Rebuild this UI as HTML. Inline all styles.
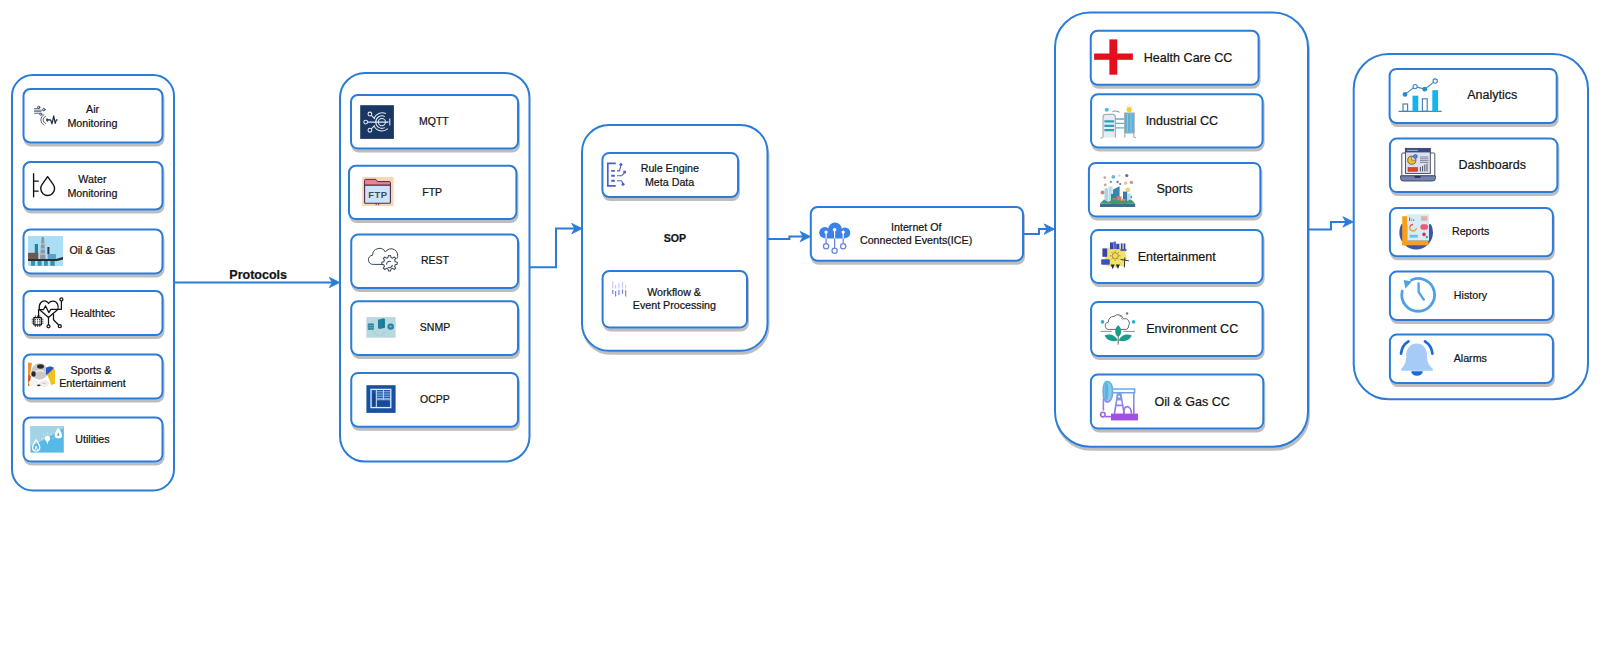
<!DOCTYPE html>
<html><head><meta charset="utf-8"><style>
html,body{margin:0;padding:0;background:#fff;}
body{width:1600px;height:648px;overflow:hidden;}
svg{display:block;font-family:"Liberation Sans",sans-serif;}
</style></head><body>
<svg width="1600" height="648" viewBox="0 0 1600 648">
<defs>
<filter id="sh" x="-10%" y="-10%" width="120%" height="130%">
<feOffset in="SourceAlpha" dx="1.4" dy="2.8" result="o"/>
<feGaussianBlur in="o" stdDeviation="0.55" result="b"/>
<feComponentTransfer in="b" result="c"><feFuncA type="linear" slope="0.26"/></feComponentTransfer>
<feMerge><feMergeNode in="c"/><feMergeNode in="SourceGraphic"/></feMerge>
</filter>
</defs>
<rect x="12.00" y="75.00" width="162.00" height="415.50" rx="21" ry="21" fill="#fff" stroke="#2a7cd8" stroke-width="2"/>
<rect x="340.00" y="73.00" width="189.50" height="388.60" rx="25" ry="25" fill="#fff" stroke="#2a7cd8" stroke-width="2"/>
<rect x="582.00" y="125.00" width="185.50" height="225.80" rx="27" ry="27" fill="#fff" stroke="#2a7cd8" stroke-width="2" filter="url(#sh)"/>
<rect x="1055.00" y="12.50" width="253.00" height="434.30" rx="35" ry="35" fill="#fff" stroke="#2a7cd8" stroke-width="2" filter="url(#sh)"/>
<rect x="1353.70" y="54.00" width="234.30" height="345.30" rx="35" ry="35" fill="#fff" stroke="#2a7cd8" stroke-width="2"/>
<rect x="23.50" y="89.00" width="139.00" height="53.50" rx="6.8" ry="6.8" fill="#fff" stroke="#2a7cd8" stroke-width="2" filter="url(#sh)"/>
<rect x="23.50" y="162.00" width="139.00" height="47.50" rx="6.8" ry="6.8" fill="#fff" stroke="#2a7cd8" stroke-width="2" filter="url(#sh)"/>
<rect x="23.50" y="229.50" width="139.00" height="43.90" rx="6.8" ry="6.8" fill="#fff" stroke="#2a7cd8" stroke-width="2" filter="url(#sh)"/>
<rect x="23.50" y="291.00" width="139.00" height="44.10" rx="6.8" ry="6.8" fill="#fff" stroke="#2a7cd8" stroke-width="2" filter="url(#sh)"/>
<rect x="23.50" y="354.50" width="139.00" height="44.10" rx="6.8" ry="6.8" fill="#fff" stroke="#2a7cd8" stroke-width="2" filter="url(#sh)"/>
<rect x="23.50" y="417.50" width="139.00" height="43.90" rx="6.8" ry="6.8" fill="#fff" stroke="#2a7cd8" stroke-width="2" filter="url(#sh)"/>
<rect x="351.00" y="95.00" width="167.00" height="53.60" rx="6.8" ry="6.8" fill="#fff" stroke="#2a7cd8" stroke-width="2" filter="url(#sh)"/>
<rect x="349.00" y="165.75" width="167.40" height="53.35" rx="6.8" ry="6.8" fill="#fff" stroke="#2a7cd8" stroke-width="2" filter="url(#sh)"/>
<rect x="351.25" y="234.60" width="166.75" height="53.30" rx="6.8" ry="6.8" fill="#fff" stroke="#2a7cd8" stroke-width="2" filter="url(#sh)"/>
<rect x="351.25" y="301.25" width="166.75" height="53.65" rx="6.8" ry="6.8" fill="#fff" stroke="#2a7cd8" stroke-width="2" filter="url(#sh)"/>
<rect x="351.25" y="372.90" width="166.75" height="53.90" rx="6.8" ry="6.8" fill="#fff" stroke="#2a7cd8" stroke-width="2" filter="url(#sh)"/>
<rect x="602.40" y="152.90" width="135.60" height="44.10" rx="6.8" ry="6.8" fill="#fff" stroke="#2a7cd8" stroke-width="2" filter="url(#sh)"/>
<rect x="602.60" y="271.00" width="144.40" height="56.40" rx="6.8" ry="6.8" fill="#fff" stroke="#2a7cd8" stroke-width="2" filter="url(#sh)"/>
<rect x="810.80" y="207.00" width="212.20" height="53.75" rx="6.8" ry="6.8" fill="#fff" stroke="#2a7cd8" stroke-width="2" filter="url(#sh)"/>
<rect x="1090.75" y="30.75" width="167.85" height="54.00" rx="6.8" ry="6.8" fill="#fff" stroke="#2a7cd8" stroke-width="2" filter="url(#sh)"/>
<rect x="1091.10" y="94.20" width="171.50" height="53.20" rx="6.8" ry="6.8" fill="#fff" stroke="#2a7cd8" stroke-width="2" filter="url(#sh)"/>
<rect x="1088.90" y="162.90" width="171.50" height="53.50" rx="6.8" ry="6.8" fill="#fff" stroke="#2a7cd8" stroke-width="2" filter="url(#sh)"/>
<rect x="1091.10" y="230.10" width="171.50" height="52.80" rx="6.8" ry="6.8" fill="#fff" stroke="#2a7cd8" stroke-width="2" filter="url(#sh)"/>
<rect x="1091.10" y="302.10" width="171.50" height="53.80" rx="6.8" ry="6.8" fill="#fff" stroke="#2a7cd8" stroke-width="2" filter="url(#sh)"/>
<rect x="1090.90" y="374.60" width="172.40" height="53.80" rx="6.8" ry="6.8" fill="#fff" stroke="#2a7cd8" stroke-width="2" filter="url(#sh)"/>
<rect x="1389.60" y="68.90" width="167.10" height="54.10" rx="6.8" ry="6.8" fill="#fff" stroke="#2a7cd8" stroke-width="2" filter="url(#sh)"/>
<rect x="1389.90" y="138.60" width="167.50" height="53.50" rx="6.8" ry="6.8" fill="#fff" stroke="#2a7cd8" stroke-width="2" filter="url(#sh)"/>
<rect x="1389.90" y="208.10" width="163.00" height="48.20" rx="6.8" ry="6.8" fill="#fff" stroke="#2a7cd8" stroke-width="2" filter="url(#sh)"/>
<rect x="1389.90" y="271.60" width="163.00" height="48.40" rx="6.8" ry="6.8" fill="#fff" stroke="#2a7cd8" stroke-width="2" filter="url(#sh)"/>
<rect x="1389.90" y="334.60" width="163.00" height="48.40" rx="6.8" ry="6.8" fill="#fff" stroke="#2a7cd8" stroke-width="2" filter="url(#sh)"/>
<path d="M175.00,282.50 L332.00,282.50" fill="none" stroke="#2a7cd8" stroke-width="2" stroke-linejoin="miter"/>
<path d="M339.80,282.50 L329.30,277.30 L332.30,282.50 L329.30,287.70 Z" fill="#2a7cd8" stroke="#2a7cd8" stroke-width="0.8" stroke-linejoin="miter"/>
<path d="M530.00,267.30 L556.00,267.30 L556.00,228.60 L575.00,228.60" fill="none" stroke="#2a7cd8" stroke-width="2" stroke-linejoin="miter"/>
<path d="M582.20,228.60 L571.70,223.40 L574.70,228.60 L571.70,233.80 Z" fill="#2a7cd8" stroke="#2a7cd8" stroke-width="0.8" stroke-linejoin="miter"/>
<path d="M768.00,239.10 L789.40,239.10 L789.40,236.60 L803.00,236.60" fill="none" stroke="#2a7cd8" stroke-width="2" stroke-linejoin="miter"/>
<path d="M810.60,236.60 L800.10,231.40 L803.10,236.60 L800.10,241.80 Z" fill="#2a7cd8" stroke="#2a7cd8" stroke-width="0.8" stroke-linejoin="miter"/>
<path d="M1024.00,233.90 L1039.00,233.90 L1039.00,229.10 L1047.00,229.10" fill="none" stroke="#2a7cd8" stroke-width="2" stroke-linejoin="miter"/>
<path d="M1054.60,229.10 L1044.10,223.90 L1047.10,229.10 L1044.10,234.30 Z" fill="#2a7cd8" stroke="#2a7cd8" stroke-width="0.8" stroke-linejoin="miter"/>
<path d="M1309.00,229.50 L1331.00,229.50 L1331.00,221.90 L1346.00,221.90" fill="none" stroke="#2a7cd8" stroke-width="2" stroke-linejoin="miter"/>
<path d="M1353.40,221.90 L1342.90,216.70 L1345.90,221.90 L1342.90,227.10 Z" fill="#2a7cd8" stroke="#2a7cd8" stroke-width="0.8" stroke-linejoin="miter"/>
<g fill="#141414" stroke="#141414" stroke-width="0.22">
<text x="92.60" y="113.00" font-size="10.7" text-anchor="middle">Air</text>
<text x="92.40" y="127.00" font-size="10.7" text-anchor="middle">Monitoring</text>
<text x="92.40" y="182.50" font-size="10.7" text-anchor="middle">Water</text>
<text x="92.40" y="197.00" font-size="10.7" text-anchor="middle">Monitoring</text>
<text x="92.30" y="254.40" font-size="10.7" text-anchor="middle">Oil &amp; Gas</text>
<text x="92.60" y="316.90" font-size="10.7" text-anchor="middle">Healthtec</text>
<text x="90.90" y="373.75" font-size="10.7" text-anchor="middle">Sports &amp;</text>
<text x="92.50" y="386.90" font-size="10.7" text-anchor="middle">Entertainment</text>
<text x="92.45" y="443.10" font-size="10.7" text-anchor="middle">Utilities</text>
<text x="258.20" y="278.70" font-size="12.5" text-anchor="middle" font-weight="bold">Protocols</text>
<text x="433.90" y="125.00" font-size="10.5" text-anchor="middle">MQTT</text>
<text x="432.20" y="195.60" font-size="10.5" text-anchor="middle">FTP</text>
<text x="434.90" y="264.40" font-size="10.5" text-anchor="middle">REST</text>
<text x="435.00" y="331.25" font-size="10.5" text-anchor="middle">SNMP</text>
<text x="435.00" y="402.50" font-size="10.5" text-anchor="middle">OCPP</text>
<text x="669.80" y="171.90" font-size="10.7" text-anchor="middle">Rule Engine</text>
<text x="669.60" y="185.60" font-size="10.7" text-anchor="middle">Meta Data</text>
<text x="674.90" y="241.50" font-size="10.6" text-anchor="middle" font-weight="bold">SOP</text>
<text x="674.10" y="296.00" font-size="10.7" text-anchor="middle">Workflow &amp;</text>
<text x="674.40" y="309.40" font-size="10.7" text-anchor="middle">Event Processing</text>
<text x="916.25" y="230.75" font-size="10.7" text-anchor="middle">Internet Of</text>
<text x="916.10" y="244.10" font-size="10.7" text-anchor="middle">Connected Events(ICE)</text>
<text x="1188.10" y="61.50" font-size="12.55" text-anchor="middle">Health Care CC</text>
<text x="1181.90" y="124.75" font-size="12.55" text-anchor="middle">Industrial CC</text>
<text x="1174.60" y="193.10" font-size="12.55" text-anchor="middle">Sports</text>
<text x="1176.75" y="260.60" font-size="12.55" text-anchor="middle">Entertainment</text>
<text x="1192.20" y="333.00" font-size="12.55" text-anchor="middle">Environment CC</text>
<text x="1192.20" y="406.10" font-size="12.55" text-anchor="middle">Oil &amp; Gas CC</text>
<text x="1492.25" y="99.40" font-size="12.5" text-anchor="middle">Analytics</text>
<text x="1492.25" y="169.00" font-size="12.5" text-anchor="middle">Dashboards</text>
<text x="1470.65" y="234.90" font-size="10.7" text-anchor="middle">Reports</text>
<text x="1470.50" y="298.90" font-size="10.7" text-anchor="middle">History</text>
<text x="1470.30" y="361.90" font-size="10.7" text-anchor="middle">Alarms</text>
</g>
<!-- Air monitoring -->
<g fill="none" stroke="#34435e" stroke-width="0.9" stroke-linecap="round">
<path d="M34.5,108.6 H39.5 M34.5,110.2 H42.5 M34.5,111.6 H41 M34.5,113.3 H39.8" stroke="#6a7894" stroke-width="1"/>
<circle cx="38.7" cy="107.2" r="1.1"/><circle cx="43.9" cy="109.6" r="1.2"/><circle cx="40.8" cy="114.2" r="1.1"/>
<path d="M45.6,116.2 A4,4 0 0 0 45.6,123.6" stroke="#555"/>
<path d="M44,114.6 A6,6 0 0 0 44,125.2" stroke="#555"/>
<path d="M47.2,118.2 A2.2,2.2 0 0 0 47.2,121.6" stroke="#333"/>
<path d="M47.8,119.9 H50.6 L52,123.8 L53.7,115.9 L55.2,123.4 L56.4,119.9 H57" stroke="#1e2a44" stroke-width="1.2" stroke-linejoin="round"/>
<circle cx="47.6" cy="119.9" r="0.9" fill="#1e2a44" stroke="none"/>
</g>
<!-- Water monitoring -->
<g fill="none" stroke="#111" stroke-width="1.35" stroke-linecap="round">
<path d="M33.6,173.6 V196.8 M33.6,181.1 H38.2 M33.6,191.1 H38.2"/>
<path d="M47.65,176.6 L41.96,184.7 A6.9,6.9 0 1 0 53.34,184.7 Z" stroke-linejoin="round"/>
</g>
<!-- Oil & gas -->
<g>
<rect x="28" y="236" width="35" height="30" fill="#a9def4"/>
<rect x="31" y="260.5" width="4" height="5.3" fill="#3a90a8"/><rect x="37.6" y="260.5" width="4" height="5.3" fill="#3a90a8"/>
<rect x="44" y="260.5" width="3.8" height="5.3" fill="#3a90a8"/><rect x="50.3" y="260.5" width="4.4" height="5.3" fill="#3a90a8"/>
<rect x="34.8" y="244" width="3.2" height="15" fill="#2a7f96"/>
<path d="M40,259 L41.6,237 H44 L45.5,259 Z" fill="#8a9aa4"/>
<path d="M41.2,244 H44.4 M40.9,249 H44.8 M40.6,254 H45.1" stroke="#e6eef2" stroke-width="0.7"/>
<rect x="47.4" y="247" width="2" height="7" fill="#2a3a4a"/>
<rect x="28" y="252.8" width="10.3" height="6.8" fill="#6c5a50"/>
<rect x="47.7" y="254" width="8.3" height="5" fill="#5aa0c8"/>
<path d="M28,259 H56 L63,257 V259.5 L57,261 H28 Z" fill="#2a2e36"/>
</g>
<!-- Healthtec -->
<g fill="none" stroke="#141414" stroke-width="1.25" stroke-linejoin="round" stroke-linecap="round">
<path d="M39.4,309.5 C38.2,303.5 42.2,300.2 45.6,301.2 C47,301.6 48,302.5 48.6,303.4 C49.4,302.2 51,301.2 53,301.2 C57,301.2 59.2,305.5 57.8,309.5 L48.5,317.5 Z"/>
<path d="M39.2,309.5 H43.6 L45.6,305.9 L48.8,312.6 L50.9,309.3 H61.4 V300.9"/>
<circle cx="61.4" cy="299.4" r="1.5"/>
<path d="M38.6,309.5 V317.6"/>
<path d="M48.5,317.5 V324.6"/><circle cx="48.5" cy="326.3" r="1.5"/>
<path d="M53.5,314 V319.8 L58.6,325"/><circle cx="59.8" cy="326.2" r="1.5"/>
<rect x="33.9" y="317.6" width="7.4" height="7.2"/>
<path d="M35.4,315.8 V317.6 M37.6,315.8 V317.6 M39.8,315.8 V317.6 M35.4,324.8 V326.6 M37.6,324.8 V326.6 M39.8,324.8 V326.6 M32.1,319.2 H33.9 M32.1,321.2 H33.9 M32.1,323.2 H33.9 M41.3,319.2 H43.1 M41.3,321.2 H43.1 M41.3,323.2 H43.1" stroke-width="0.8"/>
<path d="M35.6,319.5 h0.01 M37.6,319.5 h0.01 M39.6,319.5 h0.01 M35.6,321.2 h0.01 M37.6,321.2 h0.01 M39.6,321.2 h0.01 M35.6,323 h0.01 M37.6,323 h0.01 M39.6,323 h0.01" stroke-width="1"/>
</g>
<!-- Sports & Ent -->
<g>
<path d="M28,362.5 L32,363 L30.5,372 L29,386 L28,386 Z" fill="#e8923a"/>
<path d="M28.5,375 L31,376 L29.5,386 L28,385 Z" fill="#d0502a"/>
<circle cx="39.5" cy="371.5" r="8.2" fill="#c9c9c9"/>
<ellipse cx="40.5" cy="366.5" rx="3.4" ry="2.2" fill="#2a2a2a"/>
<ellipse cx="33.5" cy="374" rx="2.2" ry="2.8" fill="#2a2a2a"/>
<path d="M36,372 C38,370 42,370 44,372" stroke="#eee" stroke-width="1.5" fill="none"/>
<path d="M47,369 C50,367 54,368 55,370 L55,384 L51,385 C50,380 48,376 46,374 Z" fill="#f2c21a"/>
<path d="M46,368 C48,366 52,366 54,368 L49,373 L46,375 Z" fill="#2a55c8"/>
<ellipse cx="33.5" cy="383" rx="5" ry="3.5" fill="#f3f3f3"/>
<ellipse cx="44" cy="383.5" rx="5" ry="3.5" fill="#eeeeee"/>
<path d="M42,382.5 C43,384 45,384 46,382.5" stroke="#d88" stroke-width="0.5" fill="none"/>
<ellipse cx="38.8" cy="385.3" rx="1.8" ry="0.9" fill="#333"/>
</g>
<!-- Utilities -->
<g>
<rect x="30.5" y="426" width="33.3" height="26.6" fill="#56b9e8"/>
<path d="M30.5,426 H63.8 V428 C55,433 46,440 30.5,446 Z" fill="#a3d3e4"/>
<path d="M36.2,440 C33.6,443.5 32,446 32.6,448.8 C33.4,451.8 38.6,451.8 39.6,449 C40.6,446 38.8,443.5 36.2,440 Z" fill="none" stroke="#fff" stroke-width="1.3"/>
<path d="M35,450 L36,446 L37.6,450" fill="none" stroke="#fff" stroke-width="0.9"/>
<circle cx="47.4" cy="438.4" r="2.6" fill="#fff"/><path d="M45.9,439.8 L47.4,444.6 L48.9,439.8 Z" fill="#fff"/>
<path d="M44,435 l-1,-1 M47.4,434 v-1.3 M50.8,435 l1,-1 M42.8,438.6 h-1.3 M52,438.6 h1.3" stroke="#e8f6ff" stroke-width="0.7"/>
<path d="M58.2,427.4 C56.4,430.6 54.2,433 54.6,436.2 C55.2,439.2 61.4,439.2 62,436.2 C62.4,433 60.2,430.6 58.2,427.4 Z" fill="#fff"/>
<path d="M58.3,432.6 L57.2,435.6 H59.4 Z" fill="#3a8aaa"/>
</g>
<!-- MQTT -->
<g>
<rect x="360.2" y="105.2" width="33.7" height="33.7" fill="#1a3764"/>
<g fill="none" stroke="#e3eaf4" stroke-width="1.05">
<circle cx="369.9" cy="114" r="1.9"/><circle cx="365.7" cy="122.1" r="1.9"/><circle cx="369.9" cy="130.2" r="1.9"/>
<path d="M371.3,115.4 L374.8,118.8 M367.6,122.1 H388.6 M371.3,128.8 L374.8,125.4 M389.8,118.6 V125.6"/>
<circle cx="381.9" cy="122.1" r="3.6"/>
<path d="M384.8,116.6 A6.2,6.2 0 1 0 384.8,127.6"/>
<path d="M385.8,113.6 A8.8,8.8 0 0 0 374,118.2 M374,126 A8.8,8.8 0 0 0 387.8,128.6"/>
</g>
</g>
<!-- FTP -->
<g>
<rect x="362.2" y="177" width="31.4" height="29" fill="#f5cfa6" opacity="0.85"/>
<path d="M364.6,185.2 V180.2 Q364.6,179.4 365.4,179.4 H375.8 L377.6,181.6 H389.6 Q390.4,181.6 390.4,182.4 V185.2 Z" fill="#f0808e" stroke="#4a2e4e" stroke-width="1"/>
<path d="M364.6,185.2 H390.4 V202.4 Q390.4,203.2 389.6,203.2 H365.4 Q364.6,203.2 364.6,202.4 Z" fill="#cfe3f8" stroke="#4a2e4e" stroke-width="1.1"/>
<text x="377.9" y="197.6" font-size="9.4" font-weight="bold" fill="#3c4a66" text-anchor="middle" letter-spacing="0.5">FTP</text>
<path d="M376.2,203.2 v2 M378.6,203.2 v2" stroke="#4a2e4e" stroke-width="0.9"/>
</g>
<!-- REST -->
<g fill="none" stroke="#3b4757" stroke-width="1" stroke-linejoin="round">
<path d="M382.6,264.4 H373.4 A4.6,4.6 0 0 1 372.6,255.2 A6.8,6.8 0 0 1 385.4,252 A5.4,5.4 0 0 1 396.8,258.8"/>
<g transform="translate(389.4,264.4) scale(1.15) translate(-389.2,-264.2)">
<path d="M389.2,256.6 l1,-0.1 0.4,1.7 1.4,0.6 1.5,-1 1.2,1.2 -1,1.5 0.6,1.4 1.7,0.4 v1.8 l-1.7,0.4 -0.6,1.4 1,1.5 -1.2,1.2 -1.5,-1 -1.4,0.6 -0.4,1.7 h-1.8 l-0.4,-1.7 -1.4,-0.6 -1.5,1 -1.2,-1.2 1,-1.5 -0.6,-1.4 -1.7,-0.4 v-1.8 l1.7,-0.4 0.6,-1.4 -1,-1.5 1.2,-1.2 1.5,1 1.4,-0.6 0.4,-1.7 z" stroke-width="0.9"/>
<path d="M386.6,264.4 A2.8,2.8 0 0 1 390.6,261.8 M391.8,264.6 A2.8,2.8 0 0 1 387.8,266.8" stroke-width="0.9"/>
</g>
</g>
<!-- SNMP -->
<g>
<rect x="366.4" y="317.1" width="29.2" height="20.6" fill="#b9d7df"/>
<rect x="367.8" y="323.6" width="6" height="6.2" rx="0.6" fill="#1f7f9c"/>
<path d="M368.2,325.6 H373.4 M368.2,327.8 H373.4" stroke="#9fd0dc" stroke-width="0.6"/>
<path d="M378,319.8 L383.2,318.4 L385,319 V327.8 L379.8,329 L378,328.2 Z" fill="#1f7f9c"/>
<path d="M383.2,318.4 V328.2" stroke="#166a84" stroke-width="0.5"/>
<circle cx="390.7" cy="326.6" r="3.2" fill="#1f7f9c"/>
<path d="M389,326.6 h3.4 M390.7,324.9 v3.4" stroke="#9fd0dc" stroke-width="0.6"/>
<path d="M372,331 L378.6,336 M386,331.5 L380,336" stroke="#8abccc" stroke-width="0.5"/>
</g>
<!-- OCPP -->
<g>
<rect x="366.4" y="385.2" width="29.2" height="27.7" fill="#1a50a2"/>
<rect x="371" y="389.4" width="19.8" height="18.2" fill="none" stroke="#d8ecff" stroke-width="1.3"/>
<path d="M376.3,389.6 V407.4" stroke="#d8ecff" stroke-width="1"/>
<rect x="373" y="393.5" width="2.2" height="12.2" fill="#16408a"/>
<path d="M377,391.8 H390 M377,394 H390 M377,396.2 H390 M377,398.4 H390" stroke="#b8d6f6" stroke-width="0.8"/>
<path d="M383.4,390 V399.6 M376.8,399.8 H390.4" stroke="#d8ecff" stroke-width="0.8"/>
<rect x="377.3" y="400.7" width="11.2" height="4.8" fill="#1a4896"/>
</g>
<!-- Rule Engine -->
<g fill="none" stroke="#4a5ed2" stroke-width="1.7">
<path d="M615.8,163.3 H607.8 V185.8 H615.8"/>
<path d="M611.2,170.9 H614.8 M611.2,175.8 H614.8 M611.2,180.8 H614.8" stroke-width="1.9"/>
<path d="M617,170.9 H619.4 L620.8,166" stroke-width="1.1"/>
<path d="M617,175.8 H621.6 L624.4,172.8" stroke-width="1.1"/>
<path d="M617,180.8 H621.4 L623,183.4" stroke-width="1.1"/>
<circle cx="620.9" cy="164.6" r="1.5" fill="#4a5ed2" stroke="none"/>
<circle cx="624.6" cy="171.9" r="1.5" fill="#4a5ed2" stroke="none"/>
<circle cx="623" cy="184.3" r="1.5" fill="#4a5ed2" stroke="none"/>
</g>
<!-- Workflow -->
<g stroke-width="1.2">
<path d="M612.8,281.6 V288.4 M615.6,285 V288.4 M618.9,283.2 V288.4 M622.5,281.8 V288.4 M625.7,285 V288.4" stroke="#c6ccf2"/>
<path d="M612.8,290 V294 M615.6,291 V296.5 M618.9,290 V295 M622.5,289.6 V293.8 M625.7,290.2 V296.6" stroke="#7784e2"/>
</g>
<!-- ICE cloud -->
<g>
<g fill="#3d80e8"><circle cx="835" cy="229.4" r="6.8"/><circle cx="824.8" cy="232.6" r="5.6"/><circle cx="845" cy="232.8" r="5.3"/><rect x="824.8" y="229.4" width="20.2" height="9.1"/></g>
<g fill="none" stroke="#fff" stroke-width="1.2"><path d="M826.1,232.6 V239.5 M834.6,230.2 V239.5 M843.2,232.6 V239.5"/></g>
<circle cx="826.1" cy="232.1" r="1.7" fill="#fff"/><circle cx="834.6" cy="229.7" r="1.8" fill="#fff"/><circle cx="843.2" cy="232.1" r="1.7" fill="#fff"/>
<g fill="none" stroke="#6a82dc" stroke-width="1.25"><path d="M826.1,238.4 V243.6 M834.6,238.4 V248.2 M843.2,238.4 V243.6"/>
<circle cx="826.1" cy="246.2" r="2.6"/><circle cx="834.6" cy="250.8" r="2.6"/><circle cx="843.2" cy="246.2" r="2.6"/></g>
</g>
<!-- Red cross -->
<g fill="#e1101c">
<rect x="1109.4" y="39.4" width="7.9" height="35.3"/>
<rect x="1094.1" y="53.5" width="38.8" height="6.3"/>
</g>
<!-- Industrial -->
<g>
<circle cx="1106.7" cy="109.7" r="2" fill="#3ec0e8"/>
<path d="M1112.5,111.6 C1114,110.8 1117,111 1119.5,112.2" stroke="#8a96a0" stroke-width="1.1" fill="none"/>
<path d="M1103,137.6 V117 Q1103,114.4 1106,114.4 H1112.5 Q1115.4,114.4 1115.4,117 V137.6" fill="#e6ecf0" stroke="#a8b0b8" stroke-width="1.2"/>
<path d="M1104.4,121.4 H1114 M1104.4,125.9 H1114 M1104.4,130.1 H1114" stroke="#2ea0b8" stroke-width="2.1"/>
<path d="M1115.4,119 H1124.5 M1115.4,123.4 H1124.5 M1115.4,127.8 H1124.5" stroke="#5ab4c8" stroke-width="1.3"/>
<rect x="1124.5" y="113" width="9.7" height="20" fill="#5eb0d4" stroke="#a8b0b8" stroke-width="1.1"/>
<path d="M1127.4,114 V132 M1131,114 V132" stroke="#a6d8ea" stroke-width="0.7"/>
<path d="M1124.8,133 V137.6 M1133.8,133 V137 L1136,137.8" stroke="#a8b0b8" stroke-width="1.2" fill="none"/>
<path d="M1102.8,137.6 L1100.2,138" stroke="#a8b0b8" stroke-width="1.2"/>
<circle cx="1129.2" cy="109.7" r="2.6" fill="#f2d21e"/>
<path d="M1126.5,106 l1,1.5 M1129.2,104.5 v1.8 M1132,106 l-1,1.5" stroke="#c8c070" stroke-width="0.6"/>
</g>
<!-- Sports city -->
<g>
<circle cx="1104.8" cy="177.6" r="1.4" fill="#d89a9a"/><circle cx="1113.3" cy="176.8" r="1.9" fill="#6ab4d4"/>
<circle cx="1119.4" cy="175.6" r="1.2" fill="#c4d8e0"/><circle cx="1126.8" cy="175.6" r="1.6" fill="#7a6a7a"/>
<circle cx="1110.8" cy="181.8" r="1.1" fill="#708080"/><circle cx="1117.6" cy="182" r="1.2" fill="#6a8aa0"/>
<circle cx="1120.2" cy="184" r="1.1" fill="#5a7a90"/><circle cx="1125.6" cy="183.2" r="1.6" fill="#e0c090"/>
<circle cx="1131.4" cy="182.4" r="1.7" fill="#d89080"/><circle cx="1105.2" cy="184.8" r="1.4" fill="#c0a890"/>
<circle cx="1102.6" cy="192.4" r="2" fill="#d48080"/><circle cx="1106.4" cy="189.4" r="1" fill="#506878"/>
<circle cx="1127.8" cy="189.8" r="2.4" fill="#f0d070"/><circle cx="1131" cy="197" r="1.2" fill="#3a90b0"/>
<rect x="1104.5" y="189" width="3.5" height="14.6" fill="#a8d4e6"/>
<rect x="1108.5" y="186.6" width="4" height="17" fill="#b8dce8"/>
<path d="M1113,203.6 V189.5 L1119.6,186.2 V203.6 Z" fill="#3a86b0"/>
<rect x="1111" y="194" width="4" height="9.6" fill="#2a8aa0"/>
<rect x="1123" y="191.6" width="4.2" height="12" fill="#3a78b0"/>
<rect x="1127" y="193.6" width="3.8" height="10" fill="#b8dce8"/>
<rect x="1116.5" y="196.5" width="5" height="7" fill="#e07a5a"/>
<rect x="1112.5" y="198" width="3.2" height="5.6" fill="#e06a50"/>
<rect x="1122" y="199" width="3.5" height="4.6" fill="#e09050"/>
<path d="M1100,203.6 L1104,199.6 L1108,202 L1112,200 L1127,201 L1131,199.5 L1135.2,203.6 Z" fill="#3a9a6e"/>
<rect x="1100" y="203.6" width="35.2" height="3.4" fill="#3b6e8e"/>
</g>
<!-- Entertainment -->
<g>
<path d="M1105.2,249.4 L1109,247.2 L1112,248.4 L1116,246.6 L1120,248.4 L1126,250.2 L1125.4,254 L1127,258.4 L1124.6,262 L1124.8,266.4 L1119,266 L1116,268 L1111.6,266 L1107.4,266.8 L1107,262.4 L1104.6,258.6 L1106,254 Z" fill="#f4e266"/>
<circle cx="1115.2" cy="255.8" r="3.1" fill="#f8d858" stroke="#6a5a20" stroke-width="0.6"/>
<path d="M1115.2,250.6 V251.8 M1115.2,259.8 V261 M1110,255.8 H1111.2 M1119.2,255.8 H1120.4 M1111.6,252.2 l0.8,0.8 M1118,258.6 l0.8,0.8 M1118.8,252.2 l-0.8,0.8 M1112.4,258.6 l-0.8,0.8" stroke="#7a6a28" stroke-width="0.7"/>
<rect x="1110" y="242.4" width="3.4" height="6.8" fill="#3448b4"/><rect x="1113.4" y="241.6" width="2.6" height="7.4" fill="#5466cc"/>
<rect x="1116.2" y="243.8" width="3.2" height="5.4" fill="#3448b4"/>
<rect x="1120.8" y="243.4" width="1.8" height="7.4" fill="#3e4890"/><rect x="1123.6" y="243.4" width="1.8" height="7.4" fill="#3e4890"/>
<rect x="1120.6" y="249" width="5.8" height="2" fill="#4c5cc0"/>
<rect x="1102.4" y="248.4" width="4.8" height="8.4" fill="#3446aa"/>
<rect x="1101.2" y="259.2" width="8.6" height="5.6" rx="1" fill="#3652c0"/>
<path d="M1110.6,264.4 L1112.8,269.2 L1114.6,264.6 Z M1115.8,264.4 L1118,269 L1119.8,264.4 Z" fill="#1e2458"/>
<path d="M1120.6,259.4 L1128.8,260.8 M1124.8,257.6 L1124.4,267.4" stroke="#2c3448" stroke-width="1"/>
</g>
<!-- Environment -->
<g>
<path d="M1109.5,329.4 A3.6,3.6 0 0 1 1108.4,322.2 A5.2,5.2 0 0 1 1114,316.4 A5.6,5.6 0 0 1 1123.4,318.8 A4.6,4.6 0 0 1 1128.6,325.8 A3.6,3.6 0 0 1 1126.4,329.4 Z" fill="none" stroke="#6a6a6a" stroke-width="1"/>
<path d="M1118.8,315.6 l2.6,1.6 M1121,318 l1.6,1.6" stroke="#777" stroke-width="0.7"/>
<circle cx="1127.1" cy="313.5" r="1.2" fill="#777"/>
<circle cx="1102.5" cy="321.9" r="1.8" fill="#22b2d2"/><circle cx="1133.6" cy="321.9" r="1.8" fill="#22b2d2"/>
<path d="M1100.6,331.4 H1111.6 M1123.4,331.4 H1135" stroke="#8a7a80" stroke-width="0.9"/>
<path d="M1118.2,325.2 C1114.2,328.4 1114.2,334.4 1118.2,337 C1122.2,334.4 1122.2,328.4 1118.2,325.2 Z" fill="#1a9c8c"/>
<path d="M1104.6,335.6 C1108.4,333.4 1115,334 1117.8,340.4 C1112.4,342.4 1106.8,340.6 1104.6,335.6 Z" fill="#1a9c8c"/>
<path d="M1131.8,335.6 C1128,333.4 1121.4,334 1118.6,340.4 C1124,342.4 1129.6,340.6 1131.8,335.6 Z" fill="#1a9c8c"/>
<path d="M1118.2,336.6 V344.6" stroke="#6a6a6a" stroke-width="1"/>
</g>
<!-- Oil & Gas CC -->
<g>
<defs><linearGradient id="og" gradientUnits="userSpaceOnUse" x1="0" y1="381" x2="0" y2="421"><stop offset="0" stop-color="#52bce4"/><stop offset="0.5" stop-color="#8a90e8"/><stop offset="1" stop-color="#aa4ee4"/></linearGradient></defs>
<path d="M1106.8,381.6 C1102.2,381.8 1101.8,400.4 1106.8,402 C1111,402 1112.6,396.4 1112.6,391.4 C1112.6,385.4 1110.8,381.4 1106.8,381.6 Z" fill="#86cdea"/>
<g fill="none" stroke="url(#og)" stroke-width="1.6">
<path d="M1106.8,381.6 C1102.2,381.8 1101.8,400.4 1106.8,402 C1111,402 1112.6,396.4 1112.6,391.4 C1112.6,385.4 1110.8,381.4 1106.8,381.6 Z"/>
<path d="M1112.4,389 H1134.6 V392.8 H1112.4 M1133.8,392.8 V413.8 M1114.4,413.8 L1117.6,394.4 H1120.8 L1124.2,413.8 M1115.4,405.4 H1123.2 M1116.4,399.6 H1122.2"/>
<circle cx="1119.1" cy="396.6" r="1.9"/>
<path d="M1103.4,398.6 V410.4 M1131.4,413.8 C1131.4,409 1129.2,406.6 1127.2,406.6 C1125.2,406.6 1123.6,409 1123.6,413.8"/>
<circle cx="1102.9" cy="414.6" r="2.3"/>
<path d="M1105.2,416.6 H1111"/>
</g>
<path d="M1106.4,382.8 C1104,383.4 1104,399.4 1106.4,400.6 C1107.8,400.2 1108.4,395.4 1108.4,391.4 C1108.4,386.4 1107.8,382.8 1106.4,382.8 Z" fill="#5ab4e0"/>
<rect x="1111" y="413.6" width="27" height="6.8" fill="#a54ee6"/>
</g>
<!-- Analytics -->
<g>
<path d="M1398.6,111.3 H1441.7" stroke="#4288c2" stroke-width="1.2"/>
<rect x="1403" y="104" width="4.6" height="7.3" fill="none" stroke="#4a82bc" stroke-width="1.2"/>
<rect x="1412.5" y="95.7" width="5.8" height="15.6" fill="#16b4ee"/>
<rect x="1422.4" y="98.8" width="4.8" height="12.5" fill="none" stroke="#4a82bc" stroke-width="1.2"/>
<rect x="1432.3" y="90.2" width="5.8" height="21.1" fill="#16b4ee"/>
<path d="M1405,94.4 L1415.1,86.6 L1424.8,89.2 L1435.2,81.1" fill="none" stroke="#3e86c4" stroke-width="1.2"/>
<circle cx="1405" cy="94.4" r="2.4" fill="#2e8ac8"/>
<circle cx="1415.1" cy="86.6" r="2.1" fill="#fff" stroke="#3e86c4" stroke-width="1.1"/>
<circle cx="1424.8" cy="89.2" r="2.4" fill="#2e8ac8"/>
<circle cx="1435.2" cy="81.1" r="2.2" fill="#fff" stroke="#3e86c4" stroke-width="1.1"/>
</g>
<!-- Dashboards -->
<g>
<rect x="1401.8" y="153" width="33" height="23" rx="1" fill="#fff" stroke="#4e5262" stroke-width="1"/>
<rect x="1405.4" y="148.4" width="24.9" height="25" fill="#dedef2" stroke="#3e4256" stroke-width="0.9"/>
<rect x="1405.4" y="148.4" width="24.9" height="4" fill="#3a4a80"/>
<path d="M1407,150.4 H1418" stroke="#c8d0ee" stroke-width="0.8"/>
<circle cx="1411.8" cy="160.2" r="4.1" fill="#f2c01e" stroke="#3e4256" stroke-width="0.7"/>
<path d="M1411.8,160.2 L1411.8,156.2 A4,4 0 0 1 1415.8,160.2 Z" fill="#dedef2" stroke="#3e4256" stroke-width="0.5"/>
<circle cx="1415.4" cy="156.4" r="1.9" fill="#5a90d8" stroke="#2a3a5a" stroke-width="0.6"/>
<path d="M1420,157 H1428.4 M1420,158.8 H1428.4 M1420,160.6 H1428.4 M1420,162.4 H1428.4" stroke="#6a6e80" stroke-width="0.8"/>
<rect x="1408" y="167.6" width="9.6" height="3.6" fill="#e2441e" stroke="#8a2a10" stroke-width="0.5"/>
<path d="M1420.4,171.4 V167 M1422.6,171.4 V166 M1424.8,171.4 V164.6 M1427,171.4 V163.6" stroke="#4e5262" stroke-width="1"/>
<path d="M1400.6,175.8 H1435.4 V178.4 Q1435.4,181 1432.6,181 H1403.4 Q1400.6,181 1400.6,178.4 Z" fill="#7482b2" stroke="#3e4256" stroke-width="0.9"/>
<rect x="1414.6" y="176" width="6" height="1.8" fill="#2a3050"/>
</g>
<!-- Reports -->
<g>
<path d="M1399.3,232.6 A16.85,16.85 0 0 0 1433,232.6 A16.85,16.85 0 0 0 1431,224.2 H1401.3 A16.85,16.85 0 0 0 1399.3,232.6 Z" fill="#3e54a4"/>
<rect x="1402.2" y="216.2" width="5.2" height="29.1" fill="#f5a01a"/>
<rect x="1402.2" y="240.5" width="26.2" height="4.8" fill="#f5a01a"/>
<rect x="1407.3" y="214.2" width="21.7" height="26.3" fill="#d8ecf8"/>
<rect x="1409" y="217.4" width="1.2" height="3.6" fill="#e04a5a"/><rect x="1411" y="218.6" width="1.2" height="2.4" fill="#f0b030"/><rect x="1413" y="219.2" width="1.2" height="1.8" fill="#40b0a0"/>
<rect x="1421" y="216.2" width="6.4" height="4.6" fill="#e8b0a0"/>
<rect x="1420.4" y="224.2" width="7.6" height="5.6" rx="2.4" fill="#e85a78"/>
<path d="M1410,226.6 A3.3,3.3 0 1 0 1416.4,228" fill="none" stroke="#f2a020" stroke-width="1.4"/>
<path d="M1410,226.6 A3.3,3.3 0 0 1 1413,224.4" fill="none" stroke="#e04050" stroke-width="1.4"/>
<rect x="1409.6" y="234.8" width="8.2" height="2.8" fill="#6ac0f0"/>
<circle cx="1424" cy="234.4" r="1.8" fill="#e02858"/><circle cx="1426.8" cy="237" r="1.2" fill="#30b080"/>
</g>
<!-- History -->
<g fill="none" stroke="#52a0e4" stroke-width="2.8" stroke-linecap="round">
<path d="M1411.4,279.9 A16.4,16.4 0 1 1 1402.2,291.2"/>
<path d="M1418.6,283.4 V291.8 L1423.8,299.6" stroke-width="2.3"/>
</g>
<path d="M1403.6,280 L1412,281.6 L1405.4,288.6 Z" fill="#52a0e4"/>
<!-- Alarms -->
<g>
<path d="M1406.2,356 C1406.2,348 1410.6,343.6 1416.6,343.6 C1422.6,343.6 1427,348 1427,356 C1427,362.6 1429.6,366.2 1432.8,368.8 V370.8 H1401.2 V368.8 C1404,366.2 1406.2,362.6 1406.2,356 Z" fill="#a6cbf6"/>
<path d="M1411.2,371.2 A5.8,4.6 0 0 0 1422.8,371.2 Z" fill="#1e6ad6"/>
<path d="M1408.4,341.4 A16.2,16.2 0 0 0 1401,353.6 M1425,341.4 A16.2,16.2 0 0 1 1432.4,353.6" fill="none" stroke="#1e6ad6" stroke-width="2.7" stroke-linecap="round"/>
</g>

</svg>
</body></html>
